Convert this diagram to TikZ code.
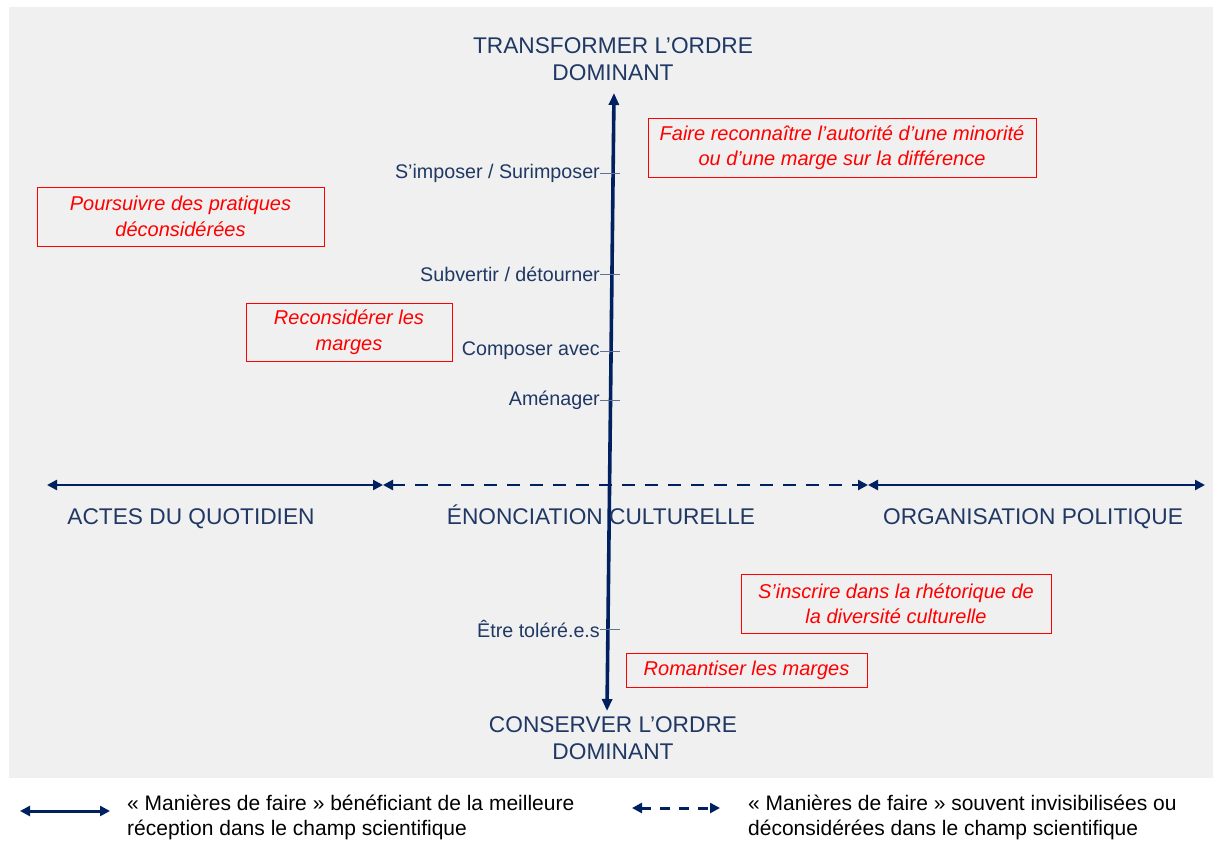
\documentclass[tikz,border=0pt]{standalone}
\usepackage{fontspec}
\setmainfont{Liberation Sans}
\usetikzlibrary{arrows.meta}
\definecolor{navy}{RGB}{31,56,100}
\definecolor{arrowblue}{RGB}{0,32,96}
\definecolor{tickblue}{RGB}{95,115,150}
\definecolor{panel}{RGB}{240,240,240}
\definecolor{redbox}{RGB}{255,0,0}
\tikzset{
  axislabel/.style={text=navy, font=\fontsize{22.7}{27.5}\selectfont, align=center, inner sep=0pt},
  ticklabel/.style={text=navy, font=\fontsize{19.7}{23}\selectfont, anchor=east, inner sep=0pt},
  tickline/.style={draw=tickblue, line width=0.9pt},
  redtag/.style={draw=redbox, line width=1pt, text=redbox, font=\fontsize{20}{25.5}\selectfont\itshape, align=center, inner sep=0pt},
  hsolid/.style={draw=arrowblue, line width=2.4pt, {Triangle[length=10pt,width=10pt]}-{Triangle[length=10pt,width=10pt]}},
  hdashed/.style={hsolid, dash pattern=on 13pt off 10pt},
  vaxis/.style={draw=arrowblue, line width=3.6pt, {Triangle[length=12pt,width=10pt]}-{Triangle[length=12pt,width=10pt]}},
  legendtext/.style={text=black, font=\fontsize{21}{25}\selectfont, align=left, anchor=west, inner sep=0pt},
  legsolid/.style={draw=arrowblue, line width=3pt, {Triangle[length=10pt,width=10pt]}-{Triangle[length=10pt,width=10pt]}},
  legdashed/.style={legsolid, dash pattern=on 10pt off 9pt}
}
\begin{document}
\begin{tikzpicture}[x=1pt,y=-1pt]
\useasboundingbox (0,0) rectangle (1215,841);
\fill[panel] (9,7) rectangle (1213,778);

% vertical axis
\coordinate (vtop) at (614,93);
\coordinate (vbot) at (607,711);
\draw[vaxis] (vbot) -- (vtop);

\node[axislabel] (top) at (613,59) {TRANSFORMER L’ORDRE\\DOMINANT};
\node[axislabel] (bot) at (613,738) {CONSERVER L’ORDRE\\DOMINANT};

% ticks
\coordinate (t1a) at (600,173); \coordinate (t1b) at (620,173);
\coordinate (t2a) at (600,274); \coordinate (t2b) at (620,274);
\coordinate (t3a) at (600,351); \coordinate (t3b) at (620,351);
\coordinate (t4a) at (600,400.5); \coordinate (t4b) at (620,400.5);
\coordinate (t5a) at (600,629); \coordinate (t5b) at (620,629);
\draw[tickline] (t1a) -- (t1b);
\draw[tickline] (t2a) -- (t2b);
\draw[tickline] (t3a) -- (t3b);
\draw[tickline] (t4a) -- (t4b);
\draw[tickline] (t5a) -- (t5b);
\node[ticklabel] (l1) at (t1a) {S’imposer / Surimposer};
\node[ticklabel] (l2) at (t2a) {Subvertir / détourner};
\node[ticklabel] (l3) at (t3a) {Composer avec};
\node[ticklabel] (l4) at (t4a) {Aménager};
\node[ticklabel] (l5) at (t5a) {Être toléré.e.s};

% horizontal axes
\coordinate (h0) at (47,485);
\coordinate (h1) at (383,485);
\coordinate (h2) at (868,485);
\coordinate (h3) at (1205,485);
\draw[hsolid] (h0) -- (h1);
\draw[hdashed] (h1) -- (h2);
\draw[hsolid] (h2) -- (h3);

\node[axislabel, anchor=base] (actes) at (191,524) {ACTES DU QUOTIDIEN};
\node[axislabel, anchor=base] (enon) at (601,524) {ÉNONCIATION CULTURELLE};
\node[axislabel, anchor=base] (orga) at (1033,524) {ORGANISATION POLITIQUE};

% red boxes
\node[redtag, minimum width=388pt, minimum height=59pt] (b1) at (842,147.5) {Faire reconnaître l’autorité d’une minorité\\ou d’une marge sur la différence};
\node[redtag, minimum width=287pt, minimum height=59pt] (b2) at (180.5,216.5) {Poursuivre des pratiques\\déconsidérées};
\node[redtag, minimum width=206pt, minimum height=58pt] (b3) at (349,332) {Reconsidérer les\\marges};
\node[redtag, minimum width=310pt, minimum height=59pt] (b4) at (896,603.5) {S’inscrire dans la rhétorique de\\la diversité culturelle};
\node[redtag, minimum width=241pt, minimum height=34pt] (b5) at (746.5,670) {Romantiser les marges};

% legend
\coordinate (la) at (20,811); \coordinate (lb) at (110,811);
\coordinate (lc) at (632,808); \coordinate (ld) at (720,808);
\draw[legsolid] (la) -- (lb);
\draw[legdashed] (lc) -- (ld);
\node[legendtext] (lt1) at (127,817.5) {« Manières de faire » bénéficiant de la meilleure\\réception dans le champ scientifique};
\node[legendtext] (lt2) at (748,817.5) {« Manières de faire » souvent invisibilisées ou\\déconsidérées dans le champ scientifique};
\end{tikzpicture}
\end{document}
